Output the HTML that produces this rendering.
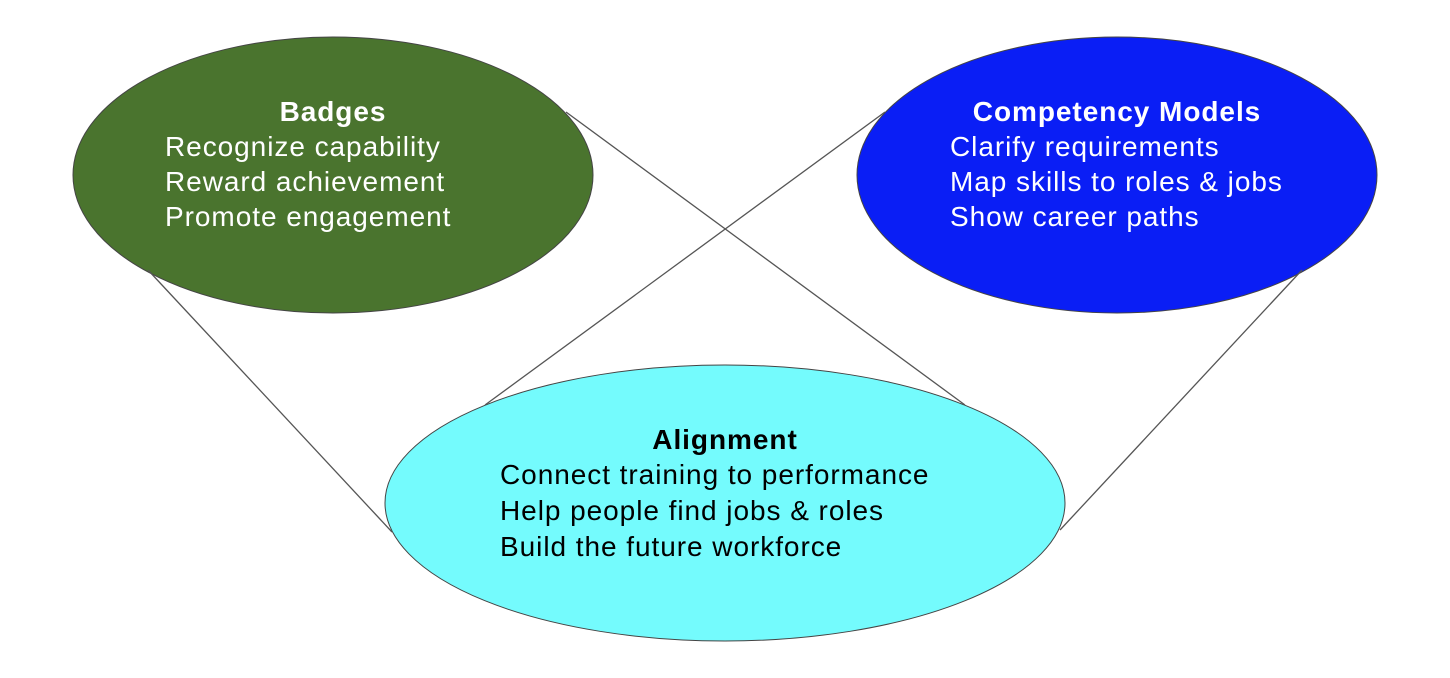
<!DOCTYPE html>
<html><head><meta charset="utf-8"><style>
html,body{margin:0;padding:0;background:#fff;width:1450px;height:678px;overflow:hidden}
text{font-family:"Liberation Sans",Arial,sans-serif;font-size:28px;letter-spacing:0.95px}
</style></head><body>
<svg width="1450" height="678" viewBox="0 0 1450 678" xmlns="http://www.w3.org/2000/svg">
<ellipse cx="333" cy="175" rx="260" ry="138" fill="#4a742e" stroke="#444" stroke-width="1"/>
<ellipse cx="1117" cy="175" rx="260" ry="138" fill="#0a1ef5" stroke="#444" stroke-width="1"/>
<ellipse cx="725" cy="503" rx="340" ry="138" fill="#74fbfd" stroke="#444" stroke-width="1"/>
<g stroke="#555" stroke-width="1.3">
<line x1="148" y1="270" x2="392" y2="532"/>
<line x1="566" y1="112" x2="965" y2="405"/>
<line x1="885" y1="112" x2="485" y2="405"/>
<line x1="1302" y1="270" x2="1060" y2="530"/>
</g>
<g fill="#fff">
<text x="333" y="121" text-anchor="middle" font-weight="bold">Badges</text>
<text x="165" y="156">Recognize capability</text>
<text x="165" y="191">Reward achievement</text>
<text x="165" y="226">Promote engagement</text>
<text x="1117" y="121" text-anchor="middle" font-weight="bold">Competency Models</text>
<text x="950" y="156">Clarify requirements</text>
<text x="950" y="191">Map skills to roles &amp; jobs</text>
<text x="950" y="226">Show career paths</text>
</g>
<g fill="#000">
<text x="725" y="449" text-anchor="middle" font-weight="bold">Alignment</text>
<text x="500" y="484">Connect training to performance</text>
<text x="500" y="520">Help people find jobs &amp; roles</text>
<text x="500" y="556">Build the future workforce</text>
</g>
</svg>
</body></html>
